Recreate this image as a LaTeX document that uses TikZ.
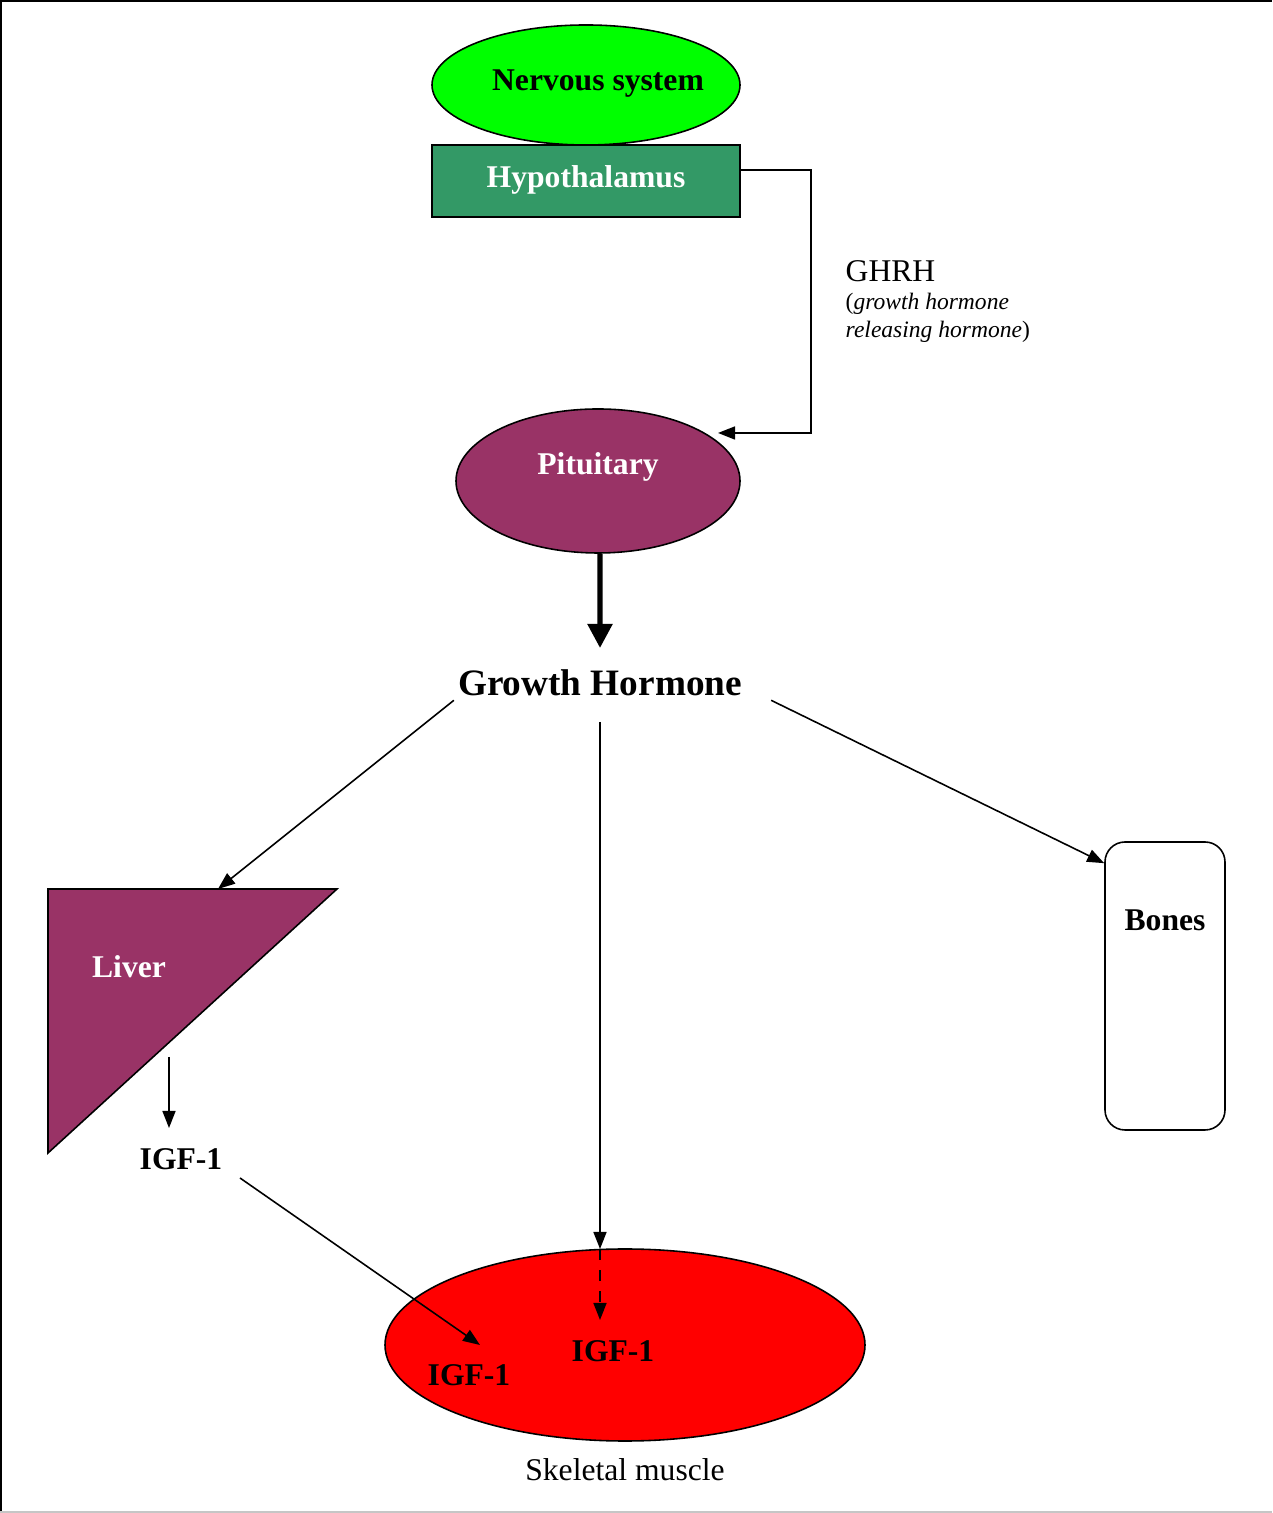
\documentclass[tikz,border=0pt]{standalone}
\usepackage{fontspec}
\setmainfont{Liberation Serif}
\usepackage{tikz}
\usetikzlibrary{arrows.meta,positioning,shapes.geometric}

\definecolor{organgreen}{RGB}{0,255,0}
\definecolor{hypogreen}{RGB}{51,153,102}
\definecolor{plum}{RGB}{153,51,102}

\begin{document}
\begin{tikzpicture}
\tikzset{organ/.style={draw=black, line width=0.45pt}}
\tikzset{bl/.style={font=\fontsize{9}{11}\selectfont\bfseries}}
\tikzset{wbl/.style={bl, text=white}}
\tikzset{arr/.style={-{Triangle[length=1.7mm,width=1.3mm]}, line width=0.45pt}}

\useasboundingbox (0,0) rectangle (12.72,15.13);
\draw[line width=1.2pt] (0,15.13) -- (12.72,15.13);
\draw[line width=1.2pt] (0,0) -- (0,15.13);
\draw[gray!45, line width=0.6pt] (0,0.01) -- (12.72,0.01);

% organs
\node [organ, ellipse, fill=organgreen, minimum width=3.08cm, minimum height=1.2cm] (nerv) at (5.86,14.28) {};
\node [bl] (nervtxt) at (5.98,14.29) {Nervous system};
\node [organ, rectangle, fill=hypogreen, minimum width=3.08cm, minimum height=0.72cm] (hypo) at (5.86,13.32) {};
\node [wbl] (hypotxt) at (5.86,13.33) {Hypothalamus};
\node [organ, ellipse, fill=plum, minimum width=2.84cm, minimum height=1.44cm] (pit) at (5.98,10.32) {};
\node [wbl] (pittxt) at (5.98,10.46) {Pituitary};
\node [font=\fontsize{10.6}{12}\selectfont\bfseries, inner sep=1pt] (gh) at (6.00,8.30) {Growth Hormone};
\draw [organ, fill=plum] (0.48,6.24) -- (3.37,6.24) -- (0.48,3.60) -- cycle;
\node [wbl] (liver) at (1.29,5.46) {Liver};
\node [bl] (igfa) at (1.81,3.54) {IGF-1};
\node [organ, rectangle, rounded corners=0.2cm, minimum width=1.2cm, minimum height=2.88cm] (bones) at (11.65,5.27) {};
\node [bl] (bonestxt) at (11.65,5.93) {Bones};
\node [organ, ellipse, fill=red, minimum width=4.8cm, minimum height=1.92cm] (mus) at (6.25,1.68) {};
\node [bl] (igfb) at (6.13,1.62) {IGF-1};
\node [bl] (igfc) at (4.69,1.38) {IGF-1};
\node [font=\fontsize{9}{11}\selectfont] (skel) at (6.25,0.43) {Skeletal muscle};

% GHRH
\coordinate (ghrhin) at (7.18,10.80);
\draw [arr] ([yshift=1.1mm]hypo.east) -- ++(0.70,0) |- (ghrhin);
\node [anchor=base west, font=\fontsize{9}{11}\selectfont, inner sep=0pt] (ghrh) at (8.45,12.31) {GHRH};
\node [anchor=base west, font=\fontsize{6.7}{8}\selectfont, inner sep=0pt] (ghrha) at (8.45,12.03) {(\textit{growth hormone}};
\node [anchor=base west, font=\fontsize{6.7}{8}\selectfont, inner sep=0pt] (ghrhb) at (8.45,11.75) {\textit{releasing hormone})};

% growth hormone paths
\coordinate (livtop) at (2.18,6.24);
\coordinate (mustop) at (6.00,2.64);
\draw [-{Triangle[length=2.4mm,width=2.4mm]}, line width=1.5pt] ([xshift=0.2mm]pit.south) -- (6.00,8.65);
\draw [arr] (gh.south west) -- (livtop);
\draw [arr] (6.00,7.91) -- (mustop);
\draw [arr] ([xshift=2.5mm]gh.south east) -- ([yshift=-2.2mm]bones.north west);
\draw [arr] (1.69,4.56) -- (1.69,3.85);
\draw [arr] (2.40,3.35) -- (4.80,1.68);
\draw [arr, dashed] (mustop) -- (6.00,1.93);

\end{tikzpicture}
\end{document}
